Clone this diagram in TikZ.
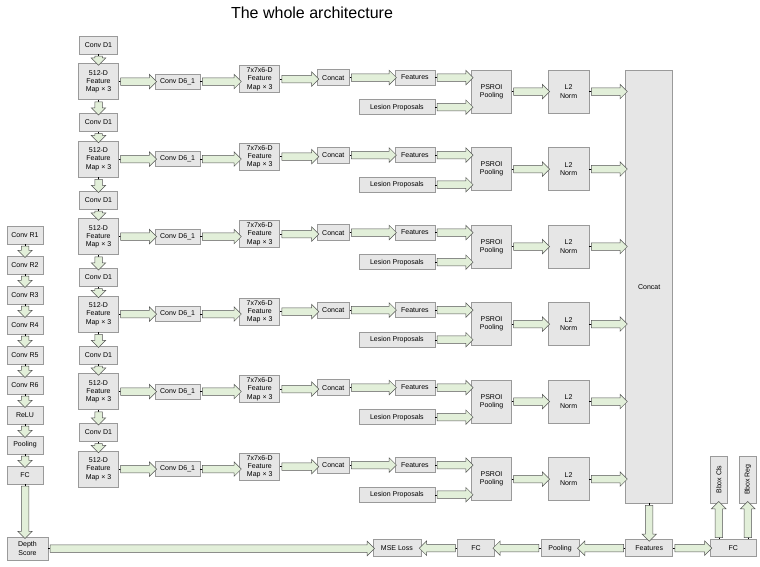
\documentclass[tikz,border=0pt]{standalone}
\usepackage{fontspec}
\setmainfont{Liberation Sans}
\usepackage{graphicx}
\usetikzlibrary{positioning,calc,shapes.arrows}

\definecolor{boxfill}{HTML}{E6E6E6}
\definecolor{boxline}{HTML}{9A9A9A}
\definecolor{arrowfill}{HTML}{E2EFD9}
\definecolor{arrowline}{HTML}{555555}

\tikzset{
  box/.style={draw=boxline, fill=boxfill, line width=0.6pt, align=center,
    inner sep=1pt, font=\fontsize{7}{8.2}\selectfont},
  arrowbody/.style={single arrow, draw=arrowline, fill=arrowfill, line width=0.5pt,
    inner xsep=0pt, inner ysep=3.5pt, single arrow head extend=3.5pt},
  fatarrow/.style={to path={let \p1=(\tikztostart), \p2=(\tikztotarget),
    \n1={veclen(\x2-\x1,\y2-\y1)} in (\tikztostart) -- (\tikztotarget)
    node[arrowbody, midway, sloped, allow upside down, minimum height=\n1] {}}}
}

\begin{document}
\begin{tikzpicture}[x=1pt, y=-1pt]
  \useasboundingbox (0,0) rectangle (760,567);
  \node[font=\fontsize{16}{18}\selectfont] (title) at (312,13) {The whole architecture};

  % six detection branches
  \foreach \i in {1,...,6} {
    \pgfmathsetmacro\yy{45+77.5*(\i-1)}
    \node[box, minimum width=38pt, minimum height=18pt] (d\i) at (98.5,\yy) {Conv D1};
    \node[box, minimum width=40pt, minimum height=36pt] (m\i) [below=9pt of d\i]        {512-D\\Feature\\Map × 3};
    \node[box, minimum width=45pt, minimum height=15pt] (c\i) [right=36pt of m\i]       {Conv D6\_1};
    \node[box, minimum width=40pt, minimum height=27pt] (t\i) [right=39pt of c\i, yshift=2.5pt] {7x7x6-D\\Feature\\Map × 3};
    \node[box, minimum width=32pt, minimum height=16pt] (k\i) [right=37pt of t\i, yshift=1.5pt] {Concat};
    \node[box, minimum width=40pt, minimum height=15pt] (f\i) [right=45pt of k\i]       {Features};
    \node[box, minimum width=76pt, minimum height=15pt] (l\i) [below=14pt of f\i.south east, anchor=north east] {Lesion Proposals};
    \node[box, minimum width=40pt, minimum height=43pt] (p\i) [right=36pt of f\i.north east, anchor=north west] {PSROI\\Pooling};
    \node[box, minimum width=41pt, minimum height=43pt] (n\i) [right=36pt of p\i]       {L2\\Norm};
    \path (d\i.south) edge[fatarrow] (m\i.north);
    \path (m\i.east)  edge[fatarrow] (c\i.west);
    \path (c\i.east)  edge[fatarrow] (c\i.east -| t\i.west);
    \path (t\i.east)  edge[fatarrow] (t\i.east -| k\i.west);
    \path (k\i.east)  edge[fatarrow] (k\i.east -| f\i.west);
    \path (f\i.east)  edge[fatarrow] (f\i.east -| p\i.west);
    \path (l\i.east)  edge[fatarrow] (l\i.east -| p\i.west);
    \path (p\i.east)  edge[fatarrow] (n\i.west);
  }
  \foreach \i [count=\j from 2] in {1,...,5}
    \path (m\i.south) edge[fatarrow] (d\j.north);

  \node[box, minimum width=47pt, minimum height=433pt] (cat) [right=36pt of n1.north east, anchor=north west] {Concat};
  \foreach \i in {1,...,6}
    \path (n\i.east) edge[fatarrow] (n\i.east -| cat.west);

  % depth branch
  \node[box, minimum width=36pt, minimum height=18pt] (r1)    at (25,235)            {Conv R1};
  \node[box, minimum width=36pt, minimum height=18pt] (r2)    [below=11.4pt of r1]   {Conv R2};
  \node[box, minimum width=36pt, minimum height=18pt] (r3)    [below=11.4pt of r2]   {Conv R3};
  \node[box, minimum width=36pt, minimum height=18pt] (r4)    [below=11.4pt of r3]   {Conv R4};
  \node[box, minimum width=36pt, minimum height=18pt] (r5)    [below=11.4pt of r4]   {Conv R5};
  \node[box, minimum width=36pt, minimum height=18pt] (r6)    [below=11.4pt of r5]   {Conv R6};
  \node[box, minimum width=36pt, minimum height=18pt] (relu)  [below=11.4pt of r6]   {ReLU};
  \node[box, minimum width=36pt, minimum height=18pt] (rpool) [below=11.4pt of relu] {Pooling};
  \node[box, minimum width=36pt, minimum height=18pt] (rfc)   [below=11.4pt of rpool] {FC};
  \node[box, minimum width=41pt, minimum height=23pt] (ds)    [below=52.4pt of rfc, xshift=2.5pt] {Depth\\Score};
  \foreach \a/\b in {r1/r2, r2/r3, r3/r4, r4/r5, r5/r6, r6/relu, relu/rpool, rpool/rfc}
    \path (\a.south) edge[fatarrow] (\b.north);
  \path (rfc.south) edge[fatarrow] (rfc.south |- ds.north);

  % bottom row
  \node[box, minimum width=47pt, minimum height=17pt] (fb)    [below=36pt of cat]    {Features};
  \node[box, minimum width=38pt, minimum height=17pt] (bpool) [left=46pt of fb]      {Pooling};
  \node[box, minimum width=37pt, minimum height=17pt] (bfc)   [left=46pt of bpool]   {FC};
  \node[box, minimum width=48pt, minimum height=17pt] (mse)   [left=36pt of bfc]     {MSE Loss};
  \node[box, minimum width=46pt, minimum height=17pt] (fcr)   [right=37pt of fb]     {FC};
  \node[box, minimum width=17pt, minimum height=47pt] (cls)   [above=36pt of fcr.north west, anchor=south west] {\rotatebox{90}{Bbox Cls}};
  \node[box, minimum width=17pt, minimum height=47pt] (reg)   [above=36pt of fcr.north east, anchor=south east] {\rotatebox{90}{Bbox Reg}};
  \path (fb.north |- cat.south) edge[fatarrow] (fb.north);
  \path (fb.west)    edge[fatarrow] (bpool.east);
  \path (bpool.west) edge[fatarrow] (bfc.east);
  \path (bfc.west)   edge[fatarrow] (mse.east);
  \path (fb.east)    edge[fatarrow] (fcr.west);
  \path (cls.south |- fcr.north) edge[fatarrow] (cls.south);
  \path (reg.south |- fcr.north) edge[fatarrow] (reg.south);
  \path (ds.east)    edge[fatarrow] (ds.east -| mse.west);
\end{tikzpicture}
\end{document}
